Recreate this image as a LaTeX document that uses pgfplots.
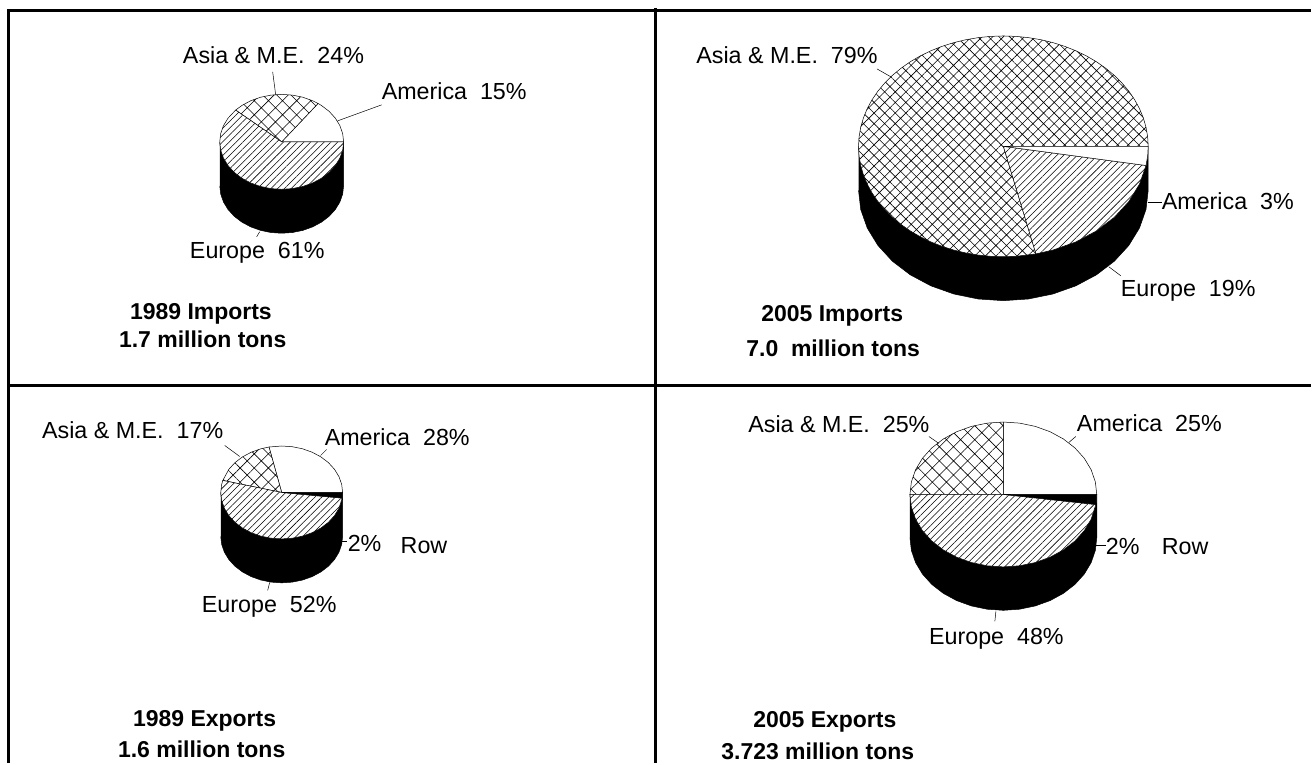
\documentclass[border=0pt]{standalone}
\usepackage{fontspec}
\setmainfont{Liberation Sans}
\usepackage{pgfplots}
\usepackage{pgfplotstable}
\usetikzlibrary{patterns.meta}
\pgfplotsset{compat=1.18}
% Side wall of a pie: front half of the rim, d = 1 is the lower edge
\pgfplotstableread[row sep=\\]{a r d\\180 1 0\\190 1 0\\200 1 0\\210 1 0\\220 1 0\\230 1 0\\240 1 0\\250 1 0\\260 1 0\\270 1 0\\280 1 0\\290 1 0\\300 1 0\\310 1 0\\320 1 0\\330 1 0\\340 1 0\\350 1 0\\360 1 0\\360 1 1\\350 1 1\\340 1 1\\330 1 1\\320 1 1\\310 1 1\\300 1 1\\290 1 1\\280 1 1\\270 1 1\\260 1 1\\250 1 1\\240 1 1\\230 1 1\\220 1 1\\210 1 1\\200 1 1\\190 1 1\\180 1 1\\}\side
% 1989 Imports: America 15, Asia 24, Europe 61
\pgfplotstableread[row sep=\\]{a r\\0 0\\0 1\\10 1\\20 1\\30 1\\40 1\\50 1\\54 1\\0 0\\}\aAm
\pgfplotstableread[row sep=\\]{a r\\0 0\\54 1\\60 1\\70 1\\80 1\\90 1\\100 1\\110 1\\120 1\\130 1\\138 1\\0 0\\}\aAs
\pgfplotstableread[row sep=\\]{a r\\0 0\\138 1\\150 1\\160 1\\170 1\\180 1\\190 1\\200 1\\210 1\\220 1\\230 1\\240 1\\250 1\\260 1\\270 1\\280 1\\290 1\\300 1\\310 1\\320 1\\330 1\\340 1\\350 1\\360 1\\0 0\\}\aEu
% 2005 Imports: America 3, Europe 19, Asia 79
\pgfplotstableread[row sep=\\]{a r\\0 0\\350 1\\355 1\\360 1\\0 0\\}\bAm
\pgfplotstableread[row sep=\\]{a r\\0 0\\283 1\\290 1\\300 1\\310 1\\320 1\\330 1\\340 1\\350 1\\0 0\\}\bEu
\pgfplotstableread[row sep=\\]{a r\\0 0\\0 1\\5 1\\10 1\\15 1\\20 1\\25 1\\30 1\\35 1\\40 1\\45 1\\50 1\\55 1\\60 1\\65 1\\70 1\\75 1\\80 1\\85 1\\90 1\\95 1\\100 1\\105 1\\110 1\\115 1\\120 1\\125 1\\130 1\\135 1\\140 1\\145 1\\150 1\\155 1\\160 1\\165 1\\170 1\\175 1\\180 1\\185 1\\190 1\\195 1\\200 1\\205 1\\210 1\\215 1\\220 1\\225 1\\230 1\\235 1\\240 1\\245 1\\250 1\\255 1\\260 1\\265 1\\270 1\\275 1\\283 1\\0 0\\}\bAs
% 1989 Exports: America 28, Asia 17, Europe 52, Row 2
\pgfplotstableread[row sep=\\]{a r\\0 0\\0 1\\10 1\\20 1\\30 1\\40 1\\50 1\\60 1\\70 1\\80 1\\90 1\\102 1\\0 0\\}\cAm
\pgfplotstableread[row sep=\\]{a r\\0 0\\102 1\\110 1\\120 1\\130 1\\140 1\\150 1\\165 1\\0 0\\}\cAs
\pgfplotstableread[row sep=\\]{a r\\0 0\\165 1\\170 1\\180 1\\190 1\\200 1\\210 1\\220 1\\230 1\\240 1\\250 1\\260 1\\270 1\\280 1\\290 1\\300 1\\310 1\\320 1\\330 1\\340 1\\353 1\\0 0\\}\cEu
\pgfplotstableread[row sep=\\]{a r\\0 0\\353 1\\360 1\\0 0\\}\cRo
% 2005 Exports: America 25, Asia 25, Europe 48, Row 2
\pgfplotstableread[row sep=\\]{a r\\0 0\\0 1\\10 1\\20 1\\30 1\\40 1\\50 1\\60 1\\70 1\\80 1\\90 1\\0 0\\}\dAm
\pgfplotstableread[row sep=\\]{a r\\0 0\\90 1\\100 1\\110 1\\120 1\\130 1\\140 1\\150 1\\160 1\\170 1\\180 1\\0 0\\}\dAs
\pgfplotstableread[row sep=\\]{a r\\0 0\\180 1\\190 1\\200 1\\210 1\\220 1\\230 1\\240 1\\250 1\\260 1\\270 1\\280 1\\290 1\\300 1\\310 1\\320 1\\330 1\\340 1\\352 1\\0 0\\}\dEu
\pgfplotstableread[row sep=\\]{a r\\0 0\\352 1\\360 1\\0 0\\}\dRo
% #1 cx #2 cy #3 rx #4 ry #5 depth
\newcommand\wall[5]{\addplot[fill=black,draw=black,line width=.5pt] table[x expr={#1+#3*\thisrow{r}*cos(\thisrow{a})},y expr={#2-#4*\thisrow{r}*sin(\thisrow{a})+#5*\thisrow{d}}] {\side};}
% #1 cx #2 cy #3 rx #4 ry #5 style #6 table
\newcommand\slice[6]{%
\addplot[fill=white,draw=none] table[x expr={#1+#3*\thisrow{r}*cos(\thisrow{a})},y expr={#2-#4*\thisrow{r}*sin(\thisrow{a})}] {#6};
\addplot[#5,draw=black,line width=.5pt] table[x expr={#1+#3*\thisrow{r}*cos(\thisrow{a})},y expr={#2-#4*\thisrow{r}*sin(\thisrow{a})}] {#6};}
\newcommand\lab[3]{\node[anchor=base west,inner sep=0pt,font=\fontsize{23.3}{28}\selectfont] at (axis cs:#1,#2) {#3};}
\newcommand\tit[3]{\node[anchor=base west,inner sep=0pt,font=\fontsize{23}{28}\selectfont\bfseries] at (axis cs:#1,#2) {#3};}
\newcommand\lead[4]{\addplot[black,line width=.5pt] coordinates {(#1,#2) (#3,#4)};}
\tikzset{
 eu/.style={pattern={Lines[angle=45,distance=4.8pt,line width=.55pt]}},
 as/.style={pattern={Hatch[angle=45,distance=10pt,line width=.6pt]}},
 asb/.style={pattern={Hatch[angle=45,distance=7.5pt,line width=.6pt]}},
 am/.style={fill=white},
 ro/.style={fill=black}}
\begin{document}
\begin{tikzpicture}
\path (0,0) rectangle (1312pt,764pt);
\begin{axis}[width=1312pt,height=764pt,scale only axis,xmin=0,xmax=1312,ymin=0,ymax=764,y dir=reverse,hide axis,clip=false]
% frame
\addplot[black,line width=3pt] coordinates {(7.3,10.5) (1312,10.5)};
\addplot[black,line width=3pt] coordinates {(8.7,10.5) (8.7,764)};
\addplot[black,line width=3pt] coordinates {(656.3,8) (656.3,764)};
\addplot[black,line width=3pt] coordinates {(8.7,386.3) (1312,386.3)};
% 1989 Imports
\wall{282}{142}{62}{47.5}{44}
\slice{282}{142}{62}{47.5}{am}{\aAm}
\slice{282}{142}{62}{47.5}{as}{\aAs}
\slice{282}{142}{62}{47.5}{eu}{\aEu}
\lead{273}{72}{276}{95}
\lead{382}{105}{338}{121}
\lead{260}{232}{257}{237}
\lab{183}{64}{Asia \& M.E.\ \ 24\%}
\lab{382}{100}{America\ \ 15\%}
\lab{190}{259}{Europe\ \ 61\%}
\tit{130}{320}{1989 Imports}
\tit{119}{348}{1.7 million tons}
% 2005 Imports
\wall{1004.5}{146.5}{145}{110.5}{44}
\slice{1004.5}{146.5}{145}{110.5}{asb}{\bAs}
\slice{1004.5}{146.5}{145}{110.5}{eu}{\bEu}
\slice{1004.5}{146.5}{145}{110.5}{am}{\bAm}
\lead{878}{69}{892}{77}
\lead{1163}{202}{1149}{202}
\lead{1122}{276}{1110}{267}
\lab{697}{64}{Asia \& M.E.\ \ 79\%}
\lab{1163}{210}{America\ \ 3\%}
\lab{1122}{297}{Europe\ \ 19\%}
\tit{762}{322}{2005 Imports}
\tit{747}{357}{7.0\ \ million tons}
% 1989 Exports
\wall{282}{493}{61}{46.5}{44}
\slice{282}{493}{61}{46.5}{am}{\cAm}
\slice{282}{493}{61}{46.5}{as}{\cAs}
\slice{282}{493}{61}{46.5}{eu}{\cEu}
\slice{282}{493}{61}{46.5}{ro}{\cRo}
\lead{225}{446}{240}{457}
\lead{327}{450}{321}{456}
\lead{347}{542}{342}{542}
\lead{270}{583}{268}{591}
\lab{42}{439}{Asia \& M.E.\ \ 17\%}
\lab{325}{446}{America\ \ 28\%}
\lab{348}{552}{2\%}
\lab{401}{554}{Row}
\lab{202}{613}{Europe\ \ 52\%}
\tit{133}{727}{1989 Exports}
\tit{118}{758}{1.6 million tons}
% 2005 Exports
\wall{1004.5}{495}{93.5}{72.5}{43.5}
\slice{1004.5}{495}{93.5}{72.5}{am}{\dAm}
\slice{1004.5}{495}{93.5}{72.5}{as}{\dAs}
\slice{1004.5}{495}{93.5}{72.5}{eu}{\dEu}
\slice{1004.5}{495}{93.5}{72.5}{ro}{\dRo}
\lead{930}{437}{940}{444}
\lead{1077}{437}{1070}{443}
\lead{1107}{546}{1097}{546}
\lead{997}{612}{996}{622}
\lab{749}{433}{Asia \& M.E.\ \ 25\%}
\lab{1078}{432}{America\ \ 25\%}
\lab{1107}{555}{2\%}
\lab{1163}{555}{Row}
\lab{930}{645}{Europe\ \ 48\%}
\tit{754}{728}{2005 Exports}
\tit{722}{760}{3.723 million tons}
\end{axis}
\end{tikzpicture}
\end{document}
